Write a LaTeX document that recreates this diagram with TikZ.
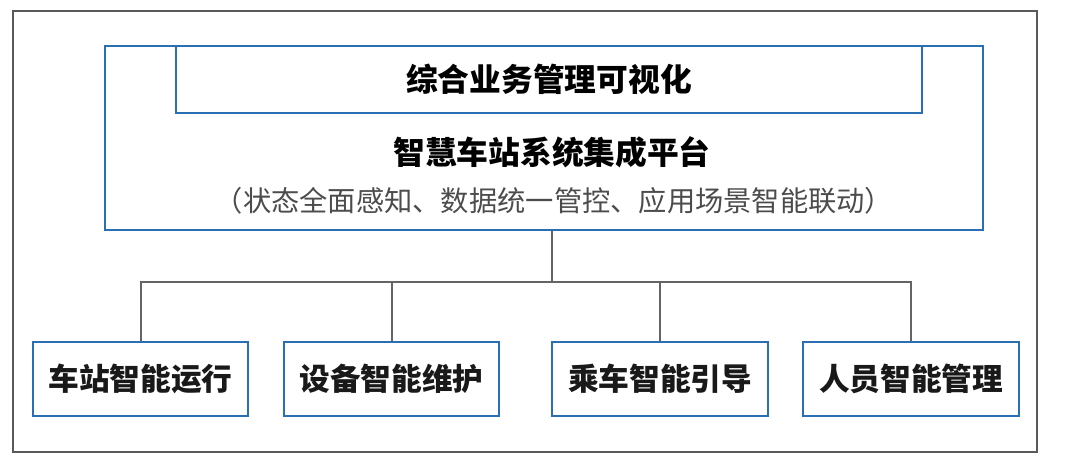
\documentclass[tikz,border=0pt]{standalone}
\usepackage{fontspec}
\newfontfamily\cjk{Noto Sans CJK SC}
\definecolor{boxblue}{HTML}{2A6EB4}
\definecolor{linegray}{HTML}{646464}
\tikzset{
  unitbox/.style={draw=boxblue,line width=1.5pt,minimum width=161.5pt,minimum height=55.5pt,inner sep=0pt,
    font=\cjk\bfseries\fontsize{23}{23}\selectfont,text=black!90},
  link/.style={draw=linegray,line width=1.5pt}
}
\begin{document}
\begin{tikzpicture}[x=0.75pt,y=-0.75pt]
       \useasboundingbox (0,0) rectangle (1068,464);
       \draw [draw=black!65,line width=1.1pt] (13,11) rectangle (1037,452);
       % platform and top layer
       \node [draw=boxblue,line width=1.5pt,minimum width=658.5pt,minimum height=138pt,inner sep=0pt] (plat) at (544,138) {};
       \node [draw=boxblue,line width=1.5pt,minimum width=559.5pt,minimum height=50.25pt,inner sep=0pt,
              font=\cjk\bfseries\fontsize{23.8}{23.8}\selectfont] (vis) at (549,79.5) {综合业务管理可视化};
       \node [font=\cjk\bfseries\fontsize{23.8}{23.8}\selectfont,inner sep=0] (name) at (552,152) {智慧车站系统集成平台};
       \node [font=\cjk\fontsize{21.2}{21.2}\selectfont,text=black!70,inner sep=0] (sub) at (554,201) {（状态全面感知、数据统一管控、应用场景智能联动）};
       % application boxes
       \node [unitbox] (b1) at (140.5,379) {车站智能运行};
       \node [unitbox] (b2) at (391.5,379) {设备智能维护};
       \node [unitbox] (b3) at (660,379) {乘车智能引导};
       \node [unitbox] (b4) at (911,379) {人员智能管理};
       \coordinate (bus) at (552,282);
       \draw [link] (plat.south -| bus) -- (bus);
       \draw [link] (b1.north) |- (b4.north |- bus) -- (b4.north);
       \draw [link] (b2.north) -- (b2.north |- bus);
       \draw [link] (b3.north) -- (b3.north |- bus);
    \end{tikzpicture}
\end{document}
